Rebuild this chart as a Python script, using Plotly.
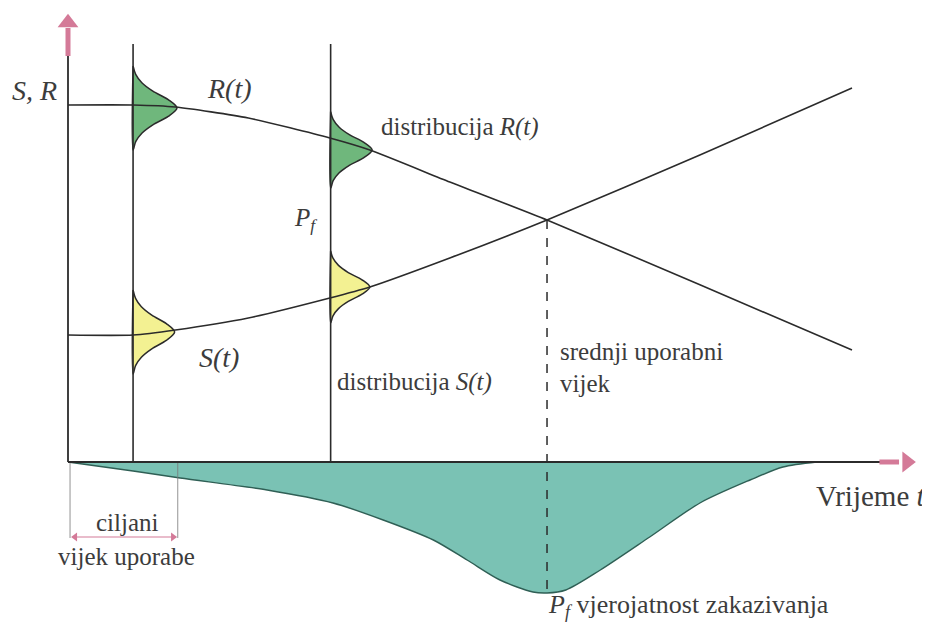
import plotly.graph_objects as go

# ---------------- data (schematic units: time t, value v) ----------------
T_CURVE = [0, 8.3, 13.7, 23, 33.4, 38.5, 48.7, 61.1, 80.6, 100]
R_VALS = [89.25, 89.25, 88.75, 86, 81, 78, 70, 60.5, 44.3, 28]
S_VALS = [31.75, 31.75, 33, 36, 41, 43.75, 51, 60.5, 76.75, 93.5]

T_PF = [0, 8.3, 14.3, 25.4, 33.8, 40.2, 46.6, 50.9, 55.1, 59.3, 61.1, 63.5, 67.9, 74.2, 80.6, 87.0, 91.2, 95.5]
PF_VALS = [0, -2.25, -4, -7, -10.25, -14.5, -19.5, -24.5, -29.5, -32.5, -32.75, -32, -27, -18.75, -10.25, -4.5, -1.25, 0]

T_OBS = [8.3, 33.5]            # observation times (vertical lines)
T_MEAN_LIFE = 61.1             # crossing of R and S
T_TARGET = 14.0                # target service life

# distributions: (base t, peak width, centre value, half extent)
DIST_R = [(8.3, 5.6, 88.5, 10.5), (33.5, 5.3, 78.0, 9.6)]
DIST_S = [(8.3, 5.3, 32.5, 10.5), (33.5, 5.0, 43.75, 9.0)]
PROFILE_POS = [-1, -0.8, -0.6, -0.4, -0.2, 0, 0.2, 0.4, 0.6, 0.8, 1]
PROFILE_W = [0, 0.06, 0.2, 0.45, 0.8, 1, 0.8, 0.45, 0.2, 0.06, 0]

# ---------------- styling ----------------
LINE = "#2b2b2b"
TXT = "#3c3c3c"
PINK = "#d47a98"
GREEN = "rgba(95,175,110,0.9)"
YELLOW = "rgba(242,240,140,0.95)"
TEAL = "rgb(122,194,180)"
FONT = "Liberation Serif, Times New Roman, serif"

OFF = 8  # page body margin
X_RANGE = [(OFF - 68) / 7.84, (930 + OFF - 68) / 7.84]
Y_RANGE = [(462 - 630 - OFF) / 4.0, (462 - OFF) / 4.0]

def px(x, y):
    """screen pixel position -> data coordinates (for label placement)"""
    return (x - 68) / 7.84, (462 - y) / 4.0

fig = go.Figure()

# failure probability area
fig.add_trace(go.Scatter(x=T_PF, y=PF_VALS, mode="lines", fill="tozeroy",
                         fillcolor=TEAL, line=dict(color="#2f5f55", width=1.4, shape="spline", smoothing=0.8),
                         hoverinfo="skip"))

# distributions
def add_dist(d, color):
    base, w, c, h = d
    xs = [base + w * p for p in PROFILE_W]
    ys = [c + h * p for p in PROFILE_POS]
    fig.add_trace(go.Scatter(x=xs + [base, base], y=ys + [c + h, c - h], mode="lines", fill="toself",
                             fillcolor=color, line=dict(color=LINE, width=1.5, shape="spline", smoothing=0.9),
                             hoverinfo="skip"))

for d in DIST_R:
    add_dist(d, GREEN)
for d in DIST_S:
    add_dist(d, YELLOW)

# R and S curves
fig.add_trace(go.Scatter(x=T_CURVE, y=R_VALS, mode="lines",
                         line=dict(color=LINE, width=1.6, shape="spline", smoothing=0.6), hoverinfo="skip"))
fig.add_trace(go.Scatter(x=T_CURVE, y=S_VALS, mode="lines",
                         line=dict(color=LINE, width=1.6, shape="spline", smoothing=0.6), hoverinfo="skip"))

# observation vertical lines
for t in T_OBS:
    fig.add_trace(go.Scatter(x=[t, t], y=[0, 104.5], mode="lines", line=dict(color=LINE, width=1.6), hoverinfo="skip"))

# dashed mean life line
fig.add_trace(go.Scatter(x=[T_MEAN_LIFE, T_MEAN_LIFE], y=[60.5, -32.75], mode="lines",
                         line=dict(color=LINE, width=1.5, dash="dash"), hoverinfo="skip"))

# target-life guide lines
for t in [0.26, T_TARGET]:
    fig.add_trace(go.Scatter(x=[t, t], y=[0, -19], mode="lines", line=dict(color="#777", width=0.8), hoverinfo="skip"))

# axes
fig.add_trace(go.Scatter(x=[0, 0], y=[0, 102], mode="lines", line=dict(color=LINE, width=1.8), hoverinfo="skip"))
fig.add_trace(go.Scatter(x=[0, 104], y=[0, 0], mode="lines", line=dict(color=LINE, width=2.2), hoverinfo="skip"))

# pink axis arrows (shaft + triangular head)
fig.add_trace(go.Scatter(x=[0, 0], y=[101.5, 108.5], mode="lines", line=dict(color=PINK, width=5), hoverinfo="skip"))
fig.add_trace(go.Scatter(x=[0], y=[109.8], mode="markers", hoverinfo="skip",
                         marker=dict(symbol="triangle-up", size=18, color=PINK)))
fig.add_trace(go.Scatter(x=[103.5, 106.0], y=[0, 0], mode="lines", line=dict(color=PINK, width=5), hoverinfo="skip"))
fig.add_trace(go.Scatter(x=[107.0], y=[0], mode="markers", hoverinfo="skip",
                         marker=dict(symbol="triangle-right", size=18, color=PINK)))
# target life double arrow
fig.add_trace(go.Scatter(x=[0.9, T_TARGET - 0.6], y=[-18.75, -18.75], mode="lines",
                         line=dict(color=PINK, width=1.2), hoverinfo="skip"))
fig.add_trace(go.Scatter(x=[0.9, T_TARGET - 0.6], y=[-18.75, -18.75], mode="markers", hoverinfo="skip",
                         marker=dict(symbol=["triangle-left", "triangle-right"], size=8, color=PINK)))

ann = []

def label(text, xp, yp, size, anchor="center"):
    x, y = px(xp, yp)
    ann.append(dict(x=x, y=y, xref="x", yref="y", text=text, showarrow=False, xanchor=anchor, yanchor="middle",
                    font=dict(family=FONT, size=size, color=TXT)))

label("<i>S, R</i>", 34, 90, 28)
label("<i>R(t)</i>", 229, 88, 28)
label("distribucija <i>R(t)</i>", 379, 127, 25, "left")
label("<i>P<sub>f</sub></i>", 305, 219, 25)
label("<i>S(t)</i>", 219, 357, 28)
label("distribucija <i>S(t)</i>", 335, 382, 25, "left")
label("srednji uporabni", 558, 351, 25, "left")
label("vijek", 558, 383, 25, "left")
label("Vrijeme <i>t</i>", 814, 496, 29, "left")
label("ciljani", 127, 522, 25)
label("vijek uporabe", 126, 556, 25)
label("<i>P<sub>f</sub></i> vjerojatnost zakazivanja", 546, 606, 26, "left")

fig.update_layout(
    width=930, height=630, margin=dict(l=0, r=0, t=0, b=0),
    paper_bgcolor="white", plot_bgcolor="white", showlegend=False,
    xaxis=dict(range=X_RANGE, visible=False, fixedrange=True),
    yaxis=dict(range=Y_RANGE, visible=False, fixedrange=True),
    annotations=ann,
)

fig.write_html("out.html")
